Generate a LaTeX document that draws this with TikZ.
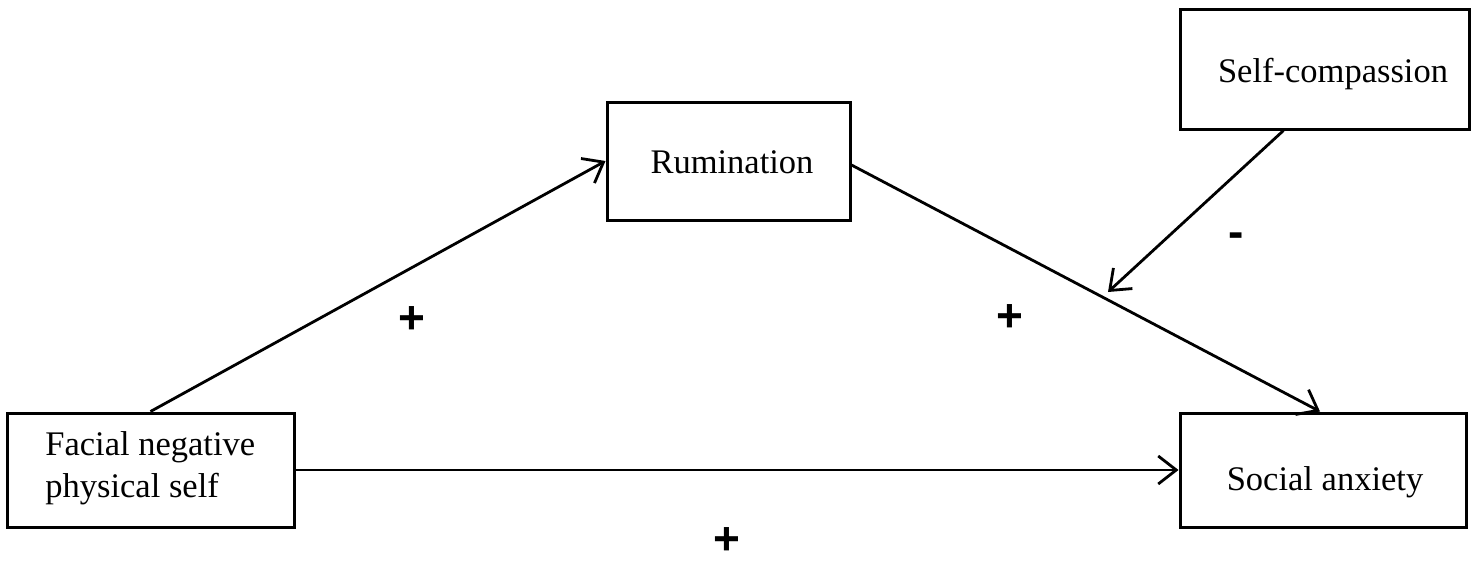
\documentclass[tikz,border=0pt]{standalone}
\usepackage{fontspec}
\setmainfont{Liberation Serif}
\newfontfamily\signfont{Liberation Sans}
\usetikzlibrary{arrows.meta,calc}
\tikzset{
  boxnode/.style={draw=black, line width=1.5pt, rectangle, inner sep=0pt},
  txt/.style={font=\fontsize{17.25}{21}\selectfont, inner sep=0pt, anchor=base},
  sign/.style={font=\signfont\bfseries\fontsize{23}{27}\selectfont, inner sep=0pt},
  conn/.style={line width=1.4pt, -{Straight Barb[length=9pt,width=14pt,line width=1.4pt]}}
}
\begin{document}
\begin{tikzpicture}[x=0.5pt,y=-0.5pt]
\useasboundingbox (0,0) rectangle (1477,563);
% boxes
\node[boxnode, minimum width=143.5pt, minimum height=57pt] (fac) at (150.5,470) {};
\node[boxnode, minimum width=121.5pt, minimum height=59pt] (rum) at (728.5,161) {};
\node[boxnode, minimum width=143pt, minimum height=57pt] (sa) at (1323,470) {};
\node[boxnode, minimum width=144.5pt, minimum height=60pt] (sc) at (1324.5,69) {};
% texts
\node[txt, anchor=base west] (factxt1) at (45,455) {Facial negative};
\node[txt, anchor=base west] (factxt2) at (45,497) {physical self};
\node[txt] (rumtxt) at (732,173) {Rumination};
\node[txt] (satxt) at (1325,490) {Social anxiety};
\node[txt] (sctxt) at (1333,82) {Self-compassion};
% connectors
\coordinate (m) at (1108,292);
\draw[conn] ([xshift=72.5pt]fac.north west) -- (rum.west);
\draw[conn] ([yshift=-2pt]rum.east) -- ([xshift=-1.5pt]sa.north);
\draw[conn] (fac.east) -- (sa.west);
\draw[conn] ([xshift=52.5pt]sc.south west) -- (m);
% signs
\node[sign] (p1) at (412,320) {+};
\node[sign] (p2) at (1010,318) {+};
\node[sign] (p3) at (727,541) {+};
\node[sign] (n1) at (1236,240) {-};
\end{tikzpicture}
\end{document}
